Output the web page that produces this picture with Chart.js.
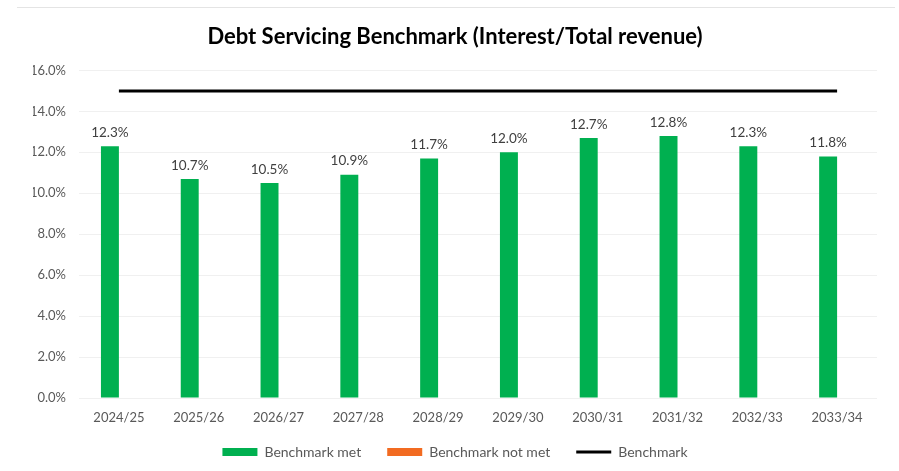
<!DOCTYPE html>
<html>
<head>
<meta charset="utf-8">
<script src="https://cdn.jsdelivr.net/npm/chart.js@4/dist/chart.umd.min.js"></script>
<style>
  html, body { margin: 0; padding: 0; background: #ffffff; }
  #wrap { position: relative; width: 899px; height: 471px; }
  #frame { position: absolute; left: 17px; top: 7px; right: 4px; height: 0; border-top: 1px solid #e4e4e4; }
  canvas { position: absolute; left: 0; top: 0; }
</style>
</head>
<body>
<div id="wrap">
  <div id="frame"></div>
  <canvas id="chart" width="899" height="471"></canvas>
</div>
<script>
// Financial years on the category axis
const years = ['2024/25', '2025/26', '2026/27', '2027/28', '2028/29', '2029/30', '2030/31', '2031/32', '2032/33', '2033/34'];
// Interest as a share of total revenue (%), years where the benchmark is met
const benchmarkMet = [12.3, 10.7, 10.5, 10.9, 11.7, 12.0, 12.7, 12.8, 12.3, 11.8];
// Years where the ratio exceeds the benchmark (none)
const benchmarkNotMet = [null, null, null, null, null, null, null, null, null, null];
// Benchmark ceiling (%)
const benchmark = [15, 15, 15, 15, 15, 15, 15, 15, 15, 15];
// Value-axis ticks
const yTicks = [0, 2, 4, 6, 8, 10, 12, 14, 16];

const FONT = "Lato, 'Liberation Sans', sans-serif";
const LEGEND_TRIM = 7;

// Percentage labels above the green bars
const barLabels = {
  id: 'barLabels',
  afterDatasetsDraw(chart) {
    const ctx = chart.ctx;
    const meta = chart.getDatasetMeta(0);
    ctx.save();
    ctx.font = "13.5px " + FONT;
    ctx.fillStyle = '#404040';
    ctx.textAlign = 'center';
    ctx.textBaseline = 'bottom';
    meta.data.forEach((bar, i) => {
      const v = benchmarkMet[i];
      if (v == null) return;
      ctx.fillText(v.toFixed(1) + '%', bar.x, bar.y - 7);
    });
    ctx.restore();
  }
};

// Pull the legend row a little closer to the category labels
const tightLegend = {
  id: 'tightLegend',
  afterInit(chart) {
    const lg = chart.legend;
    if (!lg || lg._tightened) return;
    lg._tightened = true;
    const fit = lg.fit;
    lg.fit = function () { fit.call(this); this.height -= LEGEND_TRIM; };
    const draw = lg.draw;
    lg.draw = function () {
      const ctx = this.ctx;
      ctx.save();
      ctx.translate(0, -LEGEND_TRIM);
      draw.apply(this, arguments);
      ctx.restore();
    };
  }
};

new Chart(document.getElementById('chart'), {
  data: {
    labels: years,
    datasets: [
      {
        type: 'bar',
        label: 'Benchmark met',
        data: benchmarkMet,
        backgroundColor: '#00B050',
        borderWidth: 0,
        categoryPercentage: 0.45,
        barPercentage: 1.0,
        order: 2
      },
      {
        type: 'bar',
        label: 'Benchmark not met',
        data: benchmarkNotMet,
        backgroundColor: '#F26B21',
        borderWidth: 0,
        categoryPercentage: 0.45,
        barPercentage: 1.0,
        order: 2
      },
      {
        type: 'line',
        label: 'Benchmark',
        data: benchmark,
        borderColor: '#000000',
        backgroundColor: '#000000',
        borderWidth: 3,
        pointRadius: 0,
        tension: 0,
        order: 1
      }
    ]
  },
  options: {
    responsive: false,
    animation: false,
    layout: { padding: { left: 33, right: 22, top: 24, bottom: 2 } },
    plugins: {
      title: {
        display: true,
        text: 'Debt Servicing Benchmark (Interest/Total revenue)',
        font: { family: FONT, size: 22, weight: 'bold' },
        color: '#000000',
        padding: { top: 0, bottom: 20 }
      },
      legend: {
        position: 'bottom',
        labels: {
          usePointStyle: true,
          pointStyleWidth: 35,
          boxHeight: 8,
          padding: 26,
          color: '#595959',
          font: { family: FONT, size: 14 },
          sort: (a, b) => a.datasetIndex - b.datasetIndex,
          generateLabels(chart) {
            const items = Chart.defaults.plugins.legend.labels.generateLabels(chart);
            items.forEach((it) => {
              if (it.datasetIndex === 2) {
                it.pointStyle = 'line';
                it.strokeStyle = '#000000';
                it.lineWidth = 3;
              } else {
                it.pointStyle = 'rect';
                it.lineWidth = 0;
                it.strokeStyle = it.fillStyle;
              }
            });
            return items;
          }
        }
      },
      tooltip: { enabled: false }
    },
    scales: {
      x: {
        afterFit(scale) { scale.height = 28; },
        grid: { display: false, drawTicks: false },
        border: { display: false },
        ticks: {
          color: '#595959',
          font: { family: FONT, size: 13 },
          padding: 12,
          maxRotation: 0
        }
      },
      y: {
        min: 0,
        max: 16,
        afterFit(scale) { scale.width = 46; },
        afterBuildTicks(scale) { scale.ticks = yTicks.map(v => ({ value: v })); },
        grid: { color: '#f0f0f0', drawTicks: false },
        border: { display: false },
        ticks: {
          color: '#595959',
          font: { family: FONT, size: 13 },
          padding: 13,
          callback: (v) => Number(v).toFixed(1) + '%'
        }
      }
    }
  },
  plugins: [barLabels, tightLegend]
});
</script>
</body>
</html>
